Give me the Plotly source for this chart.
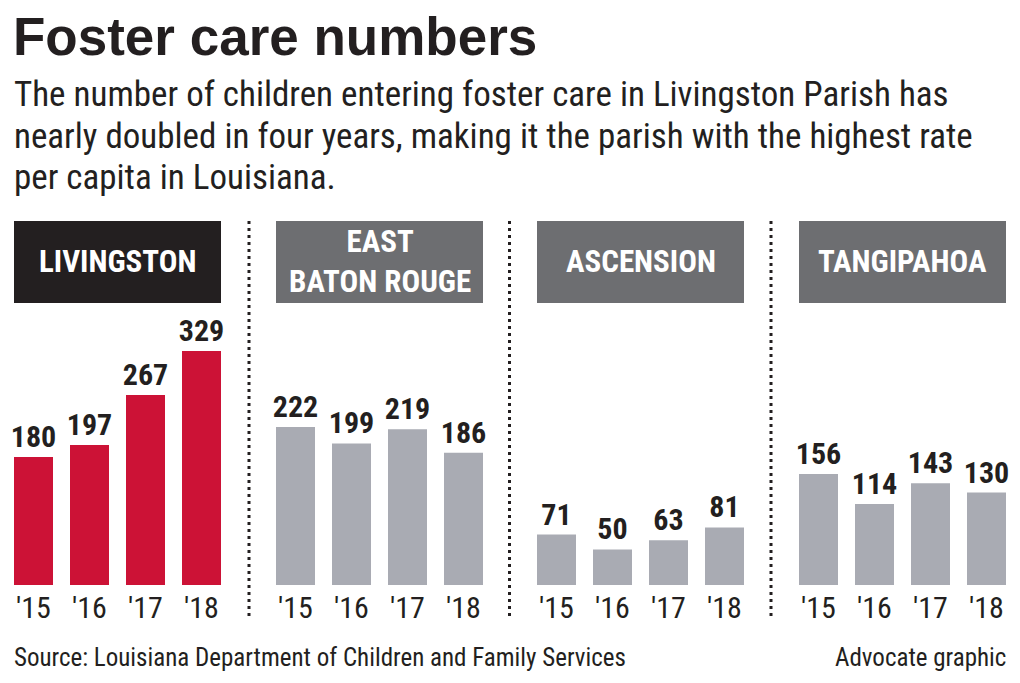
import plotly.graph_objects as go

# ---------------- data ----------------
years = ["'15", "'16", "'17", "'18"]
parishes = ["LIVINGSTON", "EAST<br>BATON ROUGE", "ASCENSION", "TANGIPAHOA"]
livingston = [180, 197, 267, 329]
east_baton_rouge = [222, 199, 219, 186]
ascension = [71, 50, 63, 81]
tangipahoa = [156, 114, 143, 130]
series = [livingston, east_baton_rouge, ascension, tangipahoa]

title = "Foster care numbers"
subtitle_lines = [
    "The number of children entering foster care in Livingston Parish has",
    "nearly doubled in four years, making it the parish with the highest rate",
    "per capita in Louisiana.",
]
source = "Source: Louisiana Department of Children and Family Services"
credit = "Advocate graphic"

# ---------------- style ----------------
W, H = 1020, 683
RED = "#CC1236"
GRAY_BAR = "#A9ABB3"
DARK_BOX = "#231F20"
GRAY_BOX = "#6D6E71"
INK = "#231F20"
COND = "Liberation Sans Narrow, Roboto Condensed, DejaVu Sans Condensed, Arial Narrow, sans-serif"
HEAVY = "Liberation Sans, Arial, sans-serif"

bar_left = [14, 276, 537, 799]
step = 56
bw = 39
plot_bottom = 585
plot_top = 221
px_per_unit = 0.7112
ymax = (plot_bottom - plot_top) / px_per_unit


def px(x):
    return x / W


def py(y):
    return (H - y) / H


fig = go.Figure()
layout = dict(
    width=W, height=H,
    margin=dict(l=0, r=0, t=0, b=0),
    paper_bgcolor="white", plot_bgcolor="white",
    showlegend=False,
    bargap=1 - bw / step,
)
shapes = []
annotations = []

for i, vals in enumerate(series):
    c0 = bar_left[i] + bw / 2
    xa = "x" if i == 0 else f"x{i+1}"
    ya = "y" if i == 0 else f"y{i+1}"
    color = RED if i == 0 else GRAY_BAR
    fig.add_trace(go.Bar(
        x=years, y=vals, xaxis=xa, yaxis=ya,
        marker=dict(color=color, line=dict(width=0)),
        text=[str(v) for v in vals],
        textposition="outside",
        constraintext="none",
        textfont=dict(family=COND, size=30, color=INK, weight="bold"),
        cliponaxis=False,
        hoverinfo="skip",
    ))
    key_x = "xaxis" if i == 0 else f"xaxis{i+1}"
    key_y = "yaxis" if i == 0 else f"yaxis{i+1}"
    layout[key_x] = dict(
        domain=[px(c0 - step / 2), px(c0 + 3 * step + step / 2)],
        range=[-0.5, 3.5], anchor=ya,
        showgrid=False, zeroline=False, showline=False, ticks="",
        tickfont=dict(family=COND, size=30, color=INK),
        ticklabelstandoff=2,
        fixedrange=True,
    )
    layout[key_y] = dict(
        domain=[py(plot_bottom), py(plot_top)],
        range=[0, ymax], anchor=xa,
        showgrid=False, zeroline=False, showline=False,
        showticklabels=False, ticks="", fixedrange=True,
    )
    # header box
    shapes.append(dict(
        type="rect", xref="paper", yref="paper",
        x0=px(bar_left[i]), x1=px(bar_left[i] + 3 * step + bw),
        y0=py(303), y1=py(221),
        fillcolor=DARK_BOX if i == 0 else GRAY_BOX, line=dict(width=0), layer="below",
    ))
    annotations.append(dict(
        xref="paper", yref="paper",
        x=px(bar_left[i] + (3 * step + bw) / 2), y=py(262),
        text=f"<b>{parishes[i]}</b>", showarrow=False,
        xanchor="center", yanchor="middle",
        font=dict(family=COND, size=31, color="white"),
        align="center",
    ))

# dotted separators
for sx in [249, 509.5, 771]:
    shapes.append(dict(
        type="line", xref="paper", yref="paper",
        x0=px(sx), x1=px(sx), y0=py(221), y1=py(617),
        line=dict(color=INK, width=3, dash="3px,4px"),
    ))

# title and subtitle
annotations.append(dict(
    xref="paper", yref="paper", x=px(11), y=py(36),
    text=f"<b>{title}</b>", showarrow=False,
    xanchor="left", yanchor="middle",
    font=dict(family=HEAVY, size=53, color=INK),
))
for k, line in enumerate(subtitle_lines):
    annotations.append(dict(
        xref="paper", yref="paper", x=px(12), y=py(95 + k * 41.5),
        text=line, showarrow=False,
        xanchor="left", yanchor="middle",
        font=dict(family=COND, size=35, color=INK),
    ))

annotations.append(dict(
    xref="paper", yref="paper", x=px(12), y=py(657),
    text=source, showarrow=False, xanchor="left", yanchor="middle",
    font=dict(family=COND, size=25, color=INK),
))
annotations.append(dict(
    xref="paper", yref="paper", x=px(1008), y=py(657),
    text=credit, showarrow=False, xanchor="right", yanchor="middle",
    font=dict(family=COND, size=25, color=INK),
))

layout["shapes"] = shapes
layout["annotations"] = annotations
fig.update_layout(**layout)
fig.write_html(
    "out.html",
    config={"displayModeBar": False},
    post_script="document.body.style.margin='0';document.body.style.padding='0';",
)
